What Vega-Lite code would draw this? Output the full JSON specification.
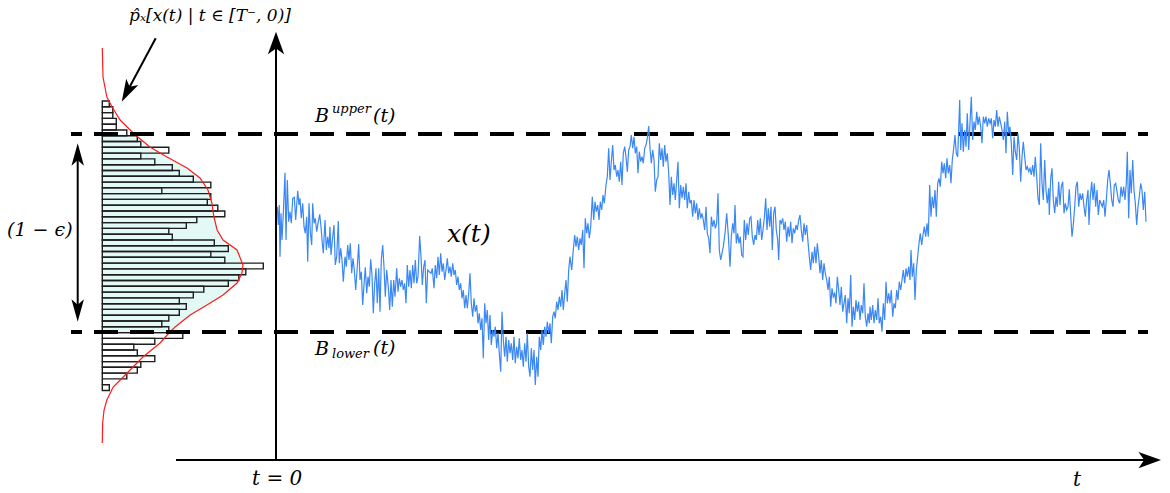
{
"$schema": "https://vega.github.io/schema/vega-lite/v6.json",
"width": 1170, "height": 493,
"autosize": {"type": "fit", "contains": "padding"},
"padding": 0,
"background": "white",
"config": {"view": {"stroke": null}, "text": {"font": "DejaVu Serif"}},
"datasets": {
"series": [
{"t":1.3,"v":26.3},{"t":2.3,"v":8},{"t":3.3,"v":28},{"t":4,"v":-23.7},{"t":5,"v":19.7},{"t":6,"v":-7},{"t":7.3,"v":19.7},{"t":9,"v":60.3},{"t":10,"v":-7},{"t":11.3,"v":53},{"t":12.7,"v":11.3},{"t":14,"v":21.3},{"t":15.3,"v":9.7},{"t":16.7,"v":34.7},{"t":18.3,"v":35.7},{"t":19.7,"v":13},{"t":21.7,"v":42.3},{"t":23,"v":28},{"t":24,"v":34.7},{"t":25.3,"v":14.7},{"t":26.7,"v":29.7},{"t":28,"v":6.3},{"t":29.3,"v":-0.3},{"t":30.7,"v":16.3},{"t":31.7,"v":-28.7},{"t":33,"v":29.7},{"t":34.3,"v":1.3},{"t":35.7,"v":-12},{"t":36.7,"v":29.7},{"t":38,"v":9.7},{"t":39.3,"v":14.7},{"t":40.7,"v":1.3},{"t":42,"v":9.7},{"t":43.7,"v":18.7},{"t":45,"v":6.3},{"t":46.3,"v":-10.3},{"t":47.3,"v":-20.3},{"t":49,"v":13},{"t":50.3,"v":-17},{"t":51.7,"v":-3.7},{"t":53,"v":-15.3},{"t":54,"v":6.3},{"t":55,"v":-22},{"t":56.7,"v":-3.7},{"t":58,"v":8},{"t":59.3,"v":-32},{"t":60.7,"v":-23.7},{"t":62.3,"v":12},{"t":63.3,"v":-30.3},{"t":64.7,"v":-15.3},{"t":66,"v":-27},{"t":67.3,"v":-48.7},{"t":69,"v":-23.7},{"t":70.3,"v":-33.7},{"t":71.7,"v":-12},{"t":73,"v":-27},{"t":74.3,"v":-10.3},{"t":75.7,"v":-40.3},{"t":77,"v":-25.3},{"t":78.3,"v":-37},{"t":79.7,"v":-57},{"t":81.3,"v":-33.7},{"t":82.7,"v":-11},{"t":84,"v":-47},{"t":85.3,"v":-38.7},{"t":86.7,"v":-72},{"t":88,"v":-52},{"t":89.3,"v":-34.3},{"t":90.7,"v":-60.3},{"t":92,"v":-43.7},{"t":93.3,"v":-53.7},{"t":94.7,"v":-26.3},{"t":96,"v":-42},{"t":97.3,"v":-80.3},{"t":98.7,"v":-50.3},{"t":100,"v":-35.3},{"t":101.3,"v":-70.3},{"t":102.7,"v":-35.3},{"t":104,"v":-78.7},{"t":105.3,"v":-27},{"t":106.7,"v":-12},{"t":108,"v":-33.7},{"t":109.3,"v":-63.7},{"t":110.7,"v":-37},{"t":112.3,"v":-53.7},{"t":113.7,"v":-77},{"t":115,"v":-47},{"t":116.3,"v":-73.7},{"t":117.7,"v":-47},{"t":119,"v":-63.7},{"t":120.7,"v":-35.3},{"t":122,"v":-58.7},{"t":123.3,"v":-45.3},{"t":124.7,"v":-53.7},{"t":126,"v":-47},{"t":127.3,"v":-57},{"t":128.7,"v":-50.3},{"t":130,"v":-70.3},{"t":131.3,"v":-32},{"t":132.7,"v":-53.7},{"t":134,"v":-37},{"t":135.3,"v":-55.3},{"t":136.7,"v":-32},{"t":138,"v":-50.3},{"t":139.3,"v":-27},{"t":140.7,"v":-50.3},{"t":142,"v":-43.7},{"t":143.7,"v":-3},{"t":145,"v":-23.7},{"t":146.3,"v":-52},{"t":147.7,"v":-33.7},{"t":149,"v":-27},{"t":150.3,"v":-70.3},{"t":151.7,"v":-37},
{"t":155,"v":-40.3},{"t":156.3,"v":-35.3},{"t":158,"v":-55.3},{"t":159.3,"v":-32},{"t":160.7,"v":-45.3},{"t":162,"v":-23.7},{"t":163.3,"v":-42},{"t":164.7,"v":-20.3},{"t":166,"v":-38.7},{"t":167.3,"v":-30.3},{"t":168.7,"v":-47},{"t":170,"v":-37},{"t":171.3,"v":-25.3},{"t":172.7,"v":-40.3},{"t":174,"v":-33.7},{"t":175.3,"v":-43.7},{"t":176.7,"v":-30.3},{"t":178,"v":-42},{"t":179.3,"v":-37},{"t":180.7,"v":-52},{"t":182,"v":-43.7},{"t":183.3,"v":-57},{"t":184.7,"v":-50.3},{"t":186,"v":-65.3},{"t":187.3,"v":-57},{"t":188.7,"v":-75.3},{"t":190,"v":-62},{"t":191.3,"v":-75.3},{"t":192.7,"v":-60.3},{"t":194,"v":-40.3},{"t":195.3,"v":-70.3},{"t":196.7,"v":-83.7},{"t":198,"v":-65.3},{"t":199.3,"v":-78.7},{"t":200.7,"v":-72},{"t":202,"v":-90.3},{"t":203.3,"v":-80.3},{"t":204.7,"v":-97},{"t":206,"v":-85.3},{"t":207.3,"v":-125.3},{"t":208.7,"v":-70.3},{"t":210,"v":-90.3},{"t":211.3,"v":-77},{"t":212.7,"v":-107},{"t":214,"v":-82},{"t":215.3,"v":-112},{"t":216.7,"v":-97},{"t":218,"v":-103.7},{"t":219.3,"v":-93.7},{"t":220.7,"v":-115.3},{"t":222,"v":-100.3},{"t":223.3,"v":-120.3},{"t":224.7,"v":-138.7},{"t":226,"v":-78.7},{"t":227.3,"v":-107},{"t":228.7,"v":-123.7},{"t":230,"v":-103.7},{"t":231.3,"v":-128.7},{"t":232.7,"v":-107},{"t":234,"v":-120.3},{"t":235.3,"v":-110.3},{"t":236.7,"v":-127},{"t":238,"v":-103.7},{"t":239.3,"v":-130.3},{"t":240.7,"v":-113.7},{"t":242,"v":-125.3},{"t":243.3,"v":-105.3},{"t":244.7,"v":-127},{"t":246,"v":-117},{"t":247.3,"v":-133.7},{"t":248.7,"v":-110.3},{"t":250,"v":-128.7},{"t":251.3,"v":-100.3},{"t":252.7,"v":-133.7},{"t":254,"v":-143.7},{"t":255.3,"v":-115.3},{"t":256.7,"v":-137},{"t":258,"v":-117},{"t":259.3,"v":-152},{"t":260.7,"v":-123.7},{"t":262,"v":-143.7},{"t":263.3,"v":-103.7},{"t":264.7,"v":-117},{"t":266,"v":-97},{"t":267.3,"v":-112},{"t":268.7,"v":-93.7},{"t":270,"v":-103.7},{"t":271.3,"v":-88.7},{"t":272.7,"v":-100.3},{"t":274,"v":-90.3},{"t":275.3,"v":-110.3},{"t":276.7,"v":-83.7},{"t":278,"v":-78.7},{"t":279.3,"v":-85.3},{"t":280.7,"v":-68.7},{"t":282,"v":-77},{"t":283.3,"v":-63.7},{"t":284.7,"v":-73.7},{"t":286,"v":-57},{"t":287.3,"v":-77},{"t":288.7,"v":-60.3},{"t":290,"v":-47},{"t":291.3,"v":-68.7},{"t":292.7,"v":-37},
{"t":294,"v":-23.7},{"t":295.7,"v":-37},{"t":297.3,"v":-17},{"t":298.7,"v":-2},{"t":300,"v":-13.7},{"t":301.3,"v":-3.7},{"t":302.7,"v":-17},{"t":304,"v":-5.3},{"t":305.3,"v":-12},{"t":306.7,"v":3},{"t":308,"v":-35.3},{"t":309.3,"v":14.7},{"t":310.7,"v":-0.3},{"t":312,"v":9.7},{"t":313.3,"v":-5.3},{"t":314.7,"v":6.3},{"t":316.3,"v":36.3},{"t":317.7,"v":13},{"t":319,"v":31.3},{"t":320.3,"v":21.3},{"t":321.7,"v":28},{"t":323,"v":13},{"t":324.3,"v":31.3},{"t":325.7,"v":23},{"t":327,"v":38},{"t":328.3,"v":29.7},{"t":330,"v":48},{"t":331.3,"v":56.3},{"t":332.7,"v":84.7},{"t":334,"v":53},{"t":335.3,"v":71.3},{"t":336.7,"v":88},{"t":338,"v":63},{"t":339.3,"v":68},{"t":340.7,"v":56.3},{"t":342,"v":63},{"t":343.3,"v":51.3},{"t":344.7,"v":71.3},{"t":346,"v":48},{"t":347.3,"v":79.7},{"t":348.7,"v":86.3},{"t":350,"v":76.3},{"t":351.3,"v":61.3},{"t":352.7,"v":83},{"t":354,"v":86.3},{"t":355.3,"v":98},{"t":356.7,"v":84.7},{"t":358,"v":96.3},{"t":359.3,"v":79.7},{"t":360.7,"v":86.3},{"t":362,"v":59.7},{"t":363.3,"v":81.3},{"t":364.7,"v":71.3},{"t":366,"v":76.3},{"t":367.3,"v":69.7},{"t":368.7,"v":84.7},{"t":370,"v":88},{"t":371.3,"v":94.7},{"t":372.7,"v":107},{"t":374,"v":84.7},{"t":375.3,"v":69.7},{"t":376.7,"v":83},{"t":378,"v":73},{"t":379.3,"v":41.3},{"t":380.7,"v":53},{"t":382,"v":56.3},{"t":383.3,"v":89.7},{"t":384.7,"v":73},{"t":386,"v":84.7},{"t":387.3,"v":66.3},{"t":388.7,"v":88},{"t":390,"v":71.3},{"t":391.3,"v":79.7},{"t":392.7,"v":59.7},{"t":394,"v":28},{"t":395.3,"v":56.3},{"t":396.7,"v":38},{"t":398,"v":49.7},{"t":399.3,"v":33},{"t":400.7,"v":53},{"t":402,"v":71.3},{"t":403.3,"v":24.7},{"t":404.7,"v":48},{"t":406,"v":34.7},{"t":407.3,"v":46.3},{"t":408.7,"v":33},{"t":410,"v":49.7},{"t":411.3,"v":24.7},{"t":412.7,"v":41.3},{"t":414,"v":29.7},{"t":415.3,"v":33},{"t":416.7,"v":16.3},{"t":418,"v":33},{"t":419.3,"v":19.7},{"t":420.7,"v":29.7},{"t":422,"v":13},{"t":423.3,"v":24.7},{"t":424.7,"v":14.7},{"t":426,"v":19.7},{"t":427.3,"v":13},{"t":428.7,"v":3},{"t":430,"v":26.3},{"t":431.3,"v":-0.3},{"t":432.7,"v":-5.3},{"t":434,"v":-20.3},{"t":435.3,"v":16.3},{"t":436.7,"v":6.3},{"t":438,"v":13},{"t":439.3,"v":4.7},{"t":440.7,"v":9.7},{"t":442,"v":39.7},{"t":443.3,"v":-17},{"t":444.7,"v":-27},
{"t":447.3,"v":-13.7},{"t":449,"v":-0.3},{"t":450.7,"v":19.7},{"t":452.3,"v":-2},{"t":454,"v":-33.7},{"t":455.3,"v":-3.7},{"t":456.7,"v":9.7},{"t":458,"v":-0.3},{"t":459,"v":28},{"t":460.3,"v":-10.3},{"t":461.7,"v":-0.3},{"t":463,"v":-10.3},{"t":464.3,"v":-3.7},{"t":465.7,"v":-22},{"t":467,"v":-23.7},{"t":468.3,"v":13},{"t":469.7,"v":-7},{"t":471,"v":9.7},{"t":472.3,"v":-2},{"t":473.7,"v":14.7},{"t":475,"v":16.3},{"t":476.3,"v":-3.7},{"t":477.7,"v":-12},{"t":479,"v":-2},{"t":480.3,"v":-7},{"t":481.7,"v":13},{"t":483,"v":-2},{"t":484.3,"v":14.7},{"t":485.7,"v":-7},{"t":487,"v":3},{"t":488.3,"v":14.7},{"t":489.7,"v":34.7},{"t":491,"v":3},{"t":492.3,"v":24.7},{"t":493.7,"v":6.3},{"t":495,"v":26.3},{"t":496.3,"v":-17},{"t":497.7,"v":19.7},{"t":499,"v":26.3},{"t":500.3,"v":3},{"t":501.7,"v":-7},{"t":502.7,"v":-27},{"t":504,"v":13},{"t":505.3,"v":9.7},{"t":506.7,"v":14.7},{"t":508,"v":3},{"t":509.3,"v":11.3},{"t":510.7,"v":-8.7},{"t":512,"v":6.3},{"t":513.3,"v":-3.7},{"t":514.7,"v":11.3},{"t":516,"v":-10.3},{"t":517.3,"v":4.7},{"t":518.7,"v":-0.3},{"t":520,"v":8},{"t":521.3,"v":3},{"t":522.7,"v":13},{"t":524,"v":18},{"t":525.3,"v":3},{"t":526.7,"v":-8.7},{"t":528,"v":9.7},{"t":529.3,"v":-2},{"t":530.7,"v":8},{"t":532,"v":-8.7},{"t":533.3,"v":-23.7},{"t":534.7,"v":-37},{"t":536,"v":-18.7},{"t":537.3,"v":-30.3},{"t":538.7,"v":-13.7},{"t":540,"v":-30.3},{"t":541.3,"v":-10.3},{"t":542.7,"v":-23.7},{"t":544,"v":-40.3},{"t":545.3,"v":-27},{"t":546.7,"v":-47},{"t":548,"v":-30.3},{"t":549.3,"v":-40.3},{"t":550.7,"v":-47},{"t":552,"v":-57},{"t":553.3,"v":-43.7},{"t":554.7,"v":-73.7},{"t":556,"v":-55.3},{"t":557.3,"v":-63.7},{"t":558.7,"v":-60.3},{"t":560,"v":-70.3},{"t":561.3,"v":-43.7},{"t":562.7,"v":-57},{"t":564,"v":-72},{"t":565.3,"v":-53.7},{"t":566.7,"v":-78.7},{"t":568,"v":-70.3},{"t":569.3,"v":-62},{"t":570.7,"v":-90.3},{"t":572,"v":-65.3},{"t":573.3,"v":-80.3},{"t":574.7,"v":-42},{"t":576,"v":-93.7},{"t":577.3,"v":-73.7},{"t":578.7,"v":-87},{"t":580,"v":-67},{"t":581.3,"v":-78.7},{"t":582.7,"v":-68.7},{"t":584,"v":-87},{"t":585.3,"v":-72},{"t":586.7,"v":-80.3},{"t":588,"v":-50.3},{"t":589.3,"v":-83.7},{"t":590.7,"v":-93.7},{"t":592,"v":-80.3},{"t":593.3,"v":-90.3},
{"t":594,"v":-73.7},{"t":595.3,"v":-87},{"t":596.7,"v":-72},{"t":598,"v":-90.3},{"t":599.3,"v":-77},{"t":600.7,"v":-87},{"t":602,"v":-65.3},{"t":603.3,"v":-90.3},{"t":604.7,"v":-83.7},{"t":606,"v":-98.7},{"t":607.3,"v":-70.3},{"t":608.7,"v":-87},{"t":610,"v":-48.7},{"t":611.3,"v":-70.3},{"t":612.7,"v":-60.3},{"t":614,"v":-70.3},{"t":615.3,"v":-57},{"t":616.7,"v":-83.7},{"t":618,"v":-70.3},{"t":619.3,"v":-75.3},{"t":620.7,"v":-57},{"t":622,"v":-67},{"t":623.3,"v":-48.7},{"t":624.7,"v":-57},{"t":626,"v":-47},{"t":627.3,"v":-37},{"t":628.7,"v":-50.3},{"t":630,"v":-35.3},{"t":631.3,"v":-43.7},{"t":632.7,"v":-33.7},{"t":634,"v":-47},{"t":635,"v":-17},{"t":636.3,"v":-43.7},{"t":637.7,"v":-30.3},{"t":639,"v":-67},{"t":640.3,"v":-37},{"t":641.7,"v":-23.7},{"t":643,"v":-10.3},{"t":644.3,"v":-0.3},{"t":645.7,"v":-12},{"t":647,"v":-2},{"t":648.3,"v":6.3},{"t":649.7,"v":-3.7},{"t":651,"v":9.7},{"t":652.3,"v":-3.7},{"t":653.7,"v":48},{"t":655,"v":16.3},{"t":656.3,"v":36.3},{"t":657.7,"v":24.7},{"t":659,"v":43},{"t":660.3,"v":16.3},{"t":661.7,"v":49.7},{"t":663,"v":54.7},{"t":664.3,"v":46.3},{"t":665.7,"v":71.3},{"t":667,"v":59.7},{"t":668.3,"v":69.7},{"t":669.7,"v":54.7},{"t":671,"v":74.7},{"t":672.3,"v":59.7},{"t":673.7,"v":68},{"t":675,"v":49.7},{"t":676.3,"v":73},{"t":677.7,"v":84.7},{"t":679,"v":98},{"t":680.3,"v":79.7},{"t":681.7,"v":76.3},{"t":683,"v":113},{"t":683.7,"v":133},{"t":684.7,"v":83},{"t":686,"v":109.7},{"t":687.3,"v":81.3},{"t":688.7,"v":103},{"t":690,"v":86.3},{"t":691.3,"v":119.7},{"t":692.7,"v":83},{"t":694,"v":109.7},{"t":695.3,"v":136.3},{"t":696.7,"v":93},{"t":698,"v":111.3},{"t":699.3,"v":103},{"t":700.7,"v":121.3},{"t":702,"v":108},{"t":703.3,"v":116.3},{"t":704.7,"v":106.3},{"t":706,"v":89.7},{"t":707.3,"v":116.3},{"t":708.7,"v":109.7},{"t":710,"v":116.3},{"t":711.3,"v":106.3},{"t":712.7,"v":114.7},{"t":714,"v":109.7},{"t":715.3,"v":114.7},{"t":716.7,"v":94.7},{"t":718,"v":113},{"t":719.3,"v":106.3},{"t":720.7,"v":123},{"t":722,"v":106.3},{"t":723.3,"v":116.3},{"t":724.7,"v":109.7},{"t":726,"v":103},{"t":727.3,"v":93},{"t":728.7,"v":111.3},{"t":730,"v":79.7},{"t":731.3,"v":121.3},{"t":732.7,"v":99.7},{"t":734,"v":106.3},{"t":735.3,"v":89.7},{"t":736.7,"v":58},{"t":738,"v":96.3},{"t":739.3,"v":81.3},{"t":740.7,"v":73},{"t":742,"v":99.7},{"t":743.3,"v":84.7},{"t":744.7,"v":51.3},{"t":746,"v":76.3},{"t":747.3,"v":91.3},{"t":748.7,"v":76.3},{"t":750,"v":63},{"t":751.3,"v":66.3},{"t":752.7,"v":61.3},
{"t":754,"v":64.7},{"t":755.3,"v":58},{"t":756.7,"v":68},{"t":758,"v":56.3},{"t":759.3,"v":76.3},{"t":760.7,"v":56.3},{"t":762,"v":34.7},{"t":763.3,"v":28},{"t":764.7,"v":89.7},{"t":766,"v":49.7},{"t":767.3,"v":33},{"t":768.7,"v":73},{"t":770,"v":43},{"t":771.3,"v":29.7},{"t":772.7,"v":44.7},{"t":773.3,"v":18},{"t":774.7,"v":54.7},{"t":776,"v":64.7},{"t":777.3,"v":33},{"t":778.7,"v":19.7},{"t":780,"v":36.3},{"t":781.3,"v":26.3},{"t":782.7,"v":51.3},{"t":784,"v":28},{"t":785.3,"v":46.3},{"t":786.7,"v":51.3},{"t":788,"v":19.7},{"t":789.3,"v":29.7},{"t":790.7,"v":23},{"t":792,"v":26.3},{"t":793.3,"v":43.7},{"t":794.7,"v":18},{"t":796,"v":-3.7},{"t":797.3,"v":8},{"t":798.7,"v":26.3},{"t":800,"v":46.3},{"t":801.3,"v":51.3},{"t":802.7,"v":26.3},{"t":804,"v":39.7},{"t":805.3,"v":33},{"t":806.7,"v":39.7},{"t":808,"v":26.3},{"t":809.3,"v":16.3},{"t":810.7,"v":33},{"t":812,"v":43},{"t":813,"v":8},{"t":814.3,"v":36.3},{"t":815.7,"v":51.3},{"t":817,"v":33},{"t":818.3,"v":49.7},{"t":819.7,"v":26.3},{"t":821,"v":43},{"t":822.3,"v":18},{"t":823.7,"v":33},{"t":825,"v":29.7},{"t":826.3,"v":26.3},{"t":827.7,"v":33},{"t":829,"v":16.3},{"t":830.3,"v":33},{"t":831.7,"v":53},{"t":833,"v":63},{"t":834.3,"v":49.7},{"t":835.7,"v":33},{"t":837,"v":26.3},{"t":838.3,"v":48},{"t":839.7,"v":49.7},{"t":841,"v":41.3},{"t":842.3,"v":33},{"t":843.7,"v":29.7},{"t":845,"v":46.3},{"t":846.3,"v":36.3},{"t":847.7,"v":46.3},{"t":849,"v":33},{"t":850.3,"v":49.7},{"t":851.3,"v":81.3},{"t":852.7,"v":14.7},{"t":854,"v":63},{"t":855.3,"v":39.7},{"t":856.7,"v":73},{"t":858,"v":43},{"t":859.3,"v":29.7},{"t":860.7,"v":8},{"t":862,"v":26.3},{"t":863.3,"v":36.3},{"t":864.7,"v":49.7},{"t":866,"v":43},{"t":867.3,"v":23},{"t":868.7,"v":41.3},{"t":870,"v":11.3}
],
"hist": [
{"hi":132.0,"lo":126.2,"n":2},{"hi":126.2,"lo":120.4,"n":3},{"hi":120.4,"lo":114.6,"n":3},{"hi":114.6,"lo":108.8,"n":4},{"hi":108.8,"lo":103.0,"n":4},{"hi":103.0,"lo":97.3,"n":7},{"hi":97.3,"lo":91.5,"n":10},{"hi":91.5,"lo":85.7,"n":11},{"hi":85.7,"lo":79.9,"n":19},{"hi":79.9,"lo":74.1,"n":11},{"hi":74.1,"lo":68.3,"n":15},{"hi":68.3,"lo":62.5,"n":20},{"hi":62.5,"lo":56.7,"n":22},{"hi":56.7,"lo":50.9,"n":26},{"hi":50.9,"lo":45.2,"n":31},{"hi":45.2,"lo":39.4,"n":17},{"hi":39.4,"lo":33.6,"n":31},{"hi":33.6,"lo":27.8,"n":30},{"hi":27.8,"lo":22.0,"n":33},{"hi":22.0,"lo":16.2,"n":35},{"hi":16.2,"lo":10.4,"n":27},{"hi":10.4,"lo":4.6,"n":24},{"hi":4.6,"lo":-1.2,"n":19},{"hi":-1.2,"lo":-7.0,"n":20},{"hi":-7.0,"lo":-12.8,"n":32},{"hi":-12.8,"lo":-18.5,"n":36},{"hi":-18.5,"lo":-24.3,"n":31},{"hi":-24.3,"lo":-30.1,"n":35},{"hi":-30.1,"lo":-35.9,"n":46},{"hi":-35.9,"lo":-41.7,"n":41},{"hi":-41.7,"lo":-47.5,"n":39},{"hi":-47.5,"lo":-53.3,"n":36},{"hi":-53.3,"lo":-59.1,"n":29},{"hi":-59.1,"lo":-64.9,"n":26},{"hi":-64.9,"lo":-70.7,"n":22},{"hi":-70.7,"lo":-76.4,"n":24},{"hi":-76.4,"lo":-82.2,"n":22},{"hi":-82.2,"lo":-88.0,"n":19},{"hi":-88.0,"lo":-93.8,"n":17},{"hi":-93.8,"lo":-99.6,"n":19},{"hi":-99.6,"lo":-105.4,"n":23},{"hi":-105.4,"lo":-111.2,"n":15},{"hi":-111.2,"lo":-117.0,"n":9},{"hi":-117.0,"lo":-122.8,"n":10},{"hi":-122.8,"lo":-128.6,"n":15},{"hi":-128.6,"lo":-134.3,"n":11},{"hi":-134.3,"lo":-140.1,"n":10},{"hi":-140.1,"lo":-145.9,"n":7},{"hi":-145.9,"lo":-151.7,"n":0},{"hi":-151.7,"lo":-157.5,"n":2}
],
"density": [
{"v":185,"c":0},{"v":156,"c":0.2},{"v":136,"c":1.3},{"v":126,"c":2.8},{"v":113,"c":5.1},{"v":99,"c":9.1},{"v":86,"c":13.6},{"v":76,"c":18.5},{"v":65,"c":24.2},{"v":55,"c":27.9},{"v":43,"c":30.2},{"v":30,"c":31.3},{"v":16,"c":31.9},{"v":3,"c":32.8},{"v":-7,"c":34.5},{"v":-17,"c":38.5},{"v":-32,"c":40.2},{"v":-40,"c":39.9},{"v":-50,"c":38.5},{"v":-62,"c":34.5},{"v":-72,"c":29.9},{"v":-82,"c":25.1},{"v":-94,"c":20.8},{"v":-99,"c":19.3},{"v":-110,"c":16.5},{"v":-124,"c":11.6},{"v":-140,"c":7.1},{"v":-154,"c":3.1},{"v":-167,"c":1.3},{"v":-177,"c":0.5},{"v":-190,"c":0.1},{"v":-210,"c":0}
]
},
"layer": [
{
"data": {"name": "density"},
"transform": [{"filter": "datum.v >= -99 && datum.v <= 99"}],
"mark": {"type": "area", "orient": "horizontal", "color": "#e3f9f6"},
"encoding": {
"x": {"field": "c", "type": "quantitative", "scale": {"domain": [-29.229, 305.057], "nice": false, "zero": false}, "axis": null},
"y": {"field": "v", "type": "quantitative", "scale": {"domain": [-260, 233], "nice": false, "zero": false}, "axis": null}
}
},
{
"data": {"name": "hist"},
"mark": {"type": "rect", "filled": false, "stroke": "#1e1e1e", "strokeWidth": 1.4},
"encoding": {
"x": {"field": "n", "type": "quantitative", "scale": {"domain": [-29.229, 305.057], "nice": false, "zero": false}, "axis": null},
"y": {"field": "hi", "type": "quantitative", "scale": {"domain": [-260, 233], "nice": false, "zero": false}, "axis": null},
"y2": {"field": "lo"}
}
},
{
"data": {"name": "density"},
"mark": {"type": "line", "color": "#ff1a1a", "strokeWidth": 1.2},
"encoding": {
"x": {"field": "c", "type": "quantitative", "scale": {"domain": [-29.229, 305.057], "nice": false, "zero": false}, "axis": null},
"y": {"field": "v", "type": "quantitative", "scale": {"domain": [-260, 233], "nice": false, "zero": false}, "axis": null},
"order": {"field": "v", "type": "quantitative", "sort": "descending"}
}
},
{
"data": {"values": [{"bound": "upper", "v": 99}, {"bound": "lower", "v": -99}]},
"mark": {"type": "rule", "color": "black", "strokeWidth": 4, "strokeDash": [24, 12], "strokeDashOffset": 13},
"encoding": {
"x": {"datum": -205, "type": "quantitative", "scale": {"domain": [-276, 894], "nice": false, "zero": false}, "axis": null},
"x2": {"datum": 872},
"y": {"field": "v", "type": "quantitative", "scale": {"domain": [-260, 233], "nice": false, "zero": false}, "axis": null}
}
},
{
"data": {"name": "series"},
"mark": {"type": "line", "color": "#3a87f5", "strokeWidth": 1.2},
"encoding": {
"x": {"field": "t", "type": "quantitative", "scale": {"domain": [-276, 894], "nice": false, "zero": false}, "axis": null},
"y": {"field": "v", "type": "quantitative", "scale": {"domain": [-260, 233], "nice": false, "zero": false}, "axis": null}
}
},
{
"data": {"values": [{}]},
"mark": {"type": "rule", "color": "black", "strokeWidth": 2},
"encoding": {
"x": {"datum": 0, "type": "quantitative", "scale": {"domain": [-276, 894], "nice": false, "zero": false}, "axis": null},
"y": {"datum": -227, "type": "quantitative", "scale": {"domain": [-260, 233], "nice": false, "zero": false}, "axis": null},
"y2": {"datum": 190}
}
},
{
"data": {"values": [{}]},
"mark": {"type": "rule", "color": "black", "strokeWidth": 2},
"encoding": {
"x": {"datum": -100, "type": "quantitative", "scale": {"domain": [-276, 894], "nice": false, "zero": false}, "axis": null},
"x2": {"datum": 872},
"y": {"datum": -227, "type": "quantitative", "scale": {"domain": [-260, 233], "nice": false, "zero": false}, "axis": null}
}
},
{
"data": {"values": [{}]},
"mark": {"type": "rule", "color": "black", "strokeWidth": 2},
"encoding": {
"x": {"datum": -198.3, "type": "quantitative", "scale": {"domain": [-276, 894], "nice": false, "zero": false}, "axis": null},
"y": {"datum": 80, "type": "quantitative", "scale": {"domain": [-260, 233], "nice": false, "zero": false}, "axis": null},
"y2": {"datum": -80}
}
},
{
"data": {"values": [{}]},
"mark": {"type": "rule", "color": "black", "strokeWidth": 2},
"encoding": {
"x": {"datum": -120.3, "type": "quantitative", "scale": {"domain": [-276, 894], "nice": false, "zero": false}, "axis": null},
"x2": {"datum": -148.4},
"y": {"datum": 194.7, "type": "quantitative", "scale": {"domain": [-260, 233], "nice": false, "zero": false}, "axis": null},
"y2": {"datum": 142.3}
}
},
{
"data": {"values": [{}]},
"mark": {"type": "point", "filled": true, "color": "black", "opacity": 1, "strokeWidth": 0, "size": 625, "shape": "M0,-1L0.65,0.8L0,0.35L-0.65,0.8Z"},
"encoding": {
"x": {"datum": 0, "type": "quantitative", "scale": {"domain": [-276, 894], "nice": false, "zero": false}, "axis": null},
"y": {"datum": 188.8, "type": "quantitative", "scale": {"domain": [-260, 233], "nice": false, "zero": false}, "axis": null}
}
},
{
"data": {"values": [{}]},
"mark": {"type": "point", "filled": true, "color": "black", "opacity": 1, "strokeWidth": 0, "size": 625, "angle": 90, "shape": "M0,-1L0.65,0.8L0,0.35L-0.65,0.8Z"},
"encoding": {
"x": {"datum": 872.5, "type": "quantitative", "scale": {"domain": [-276, 894], "nice": false, "zero": false}, "axis": null},
"y": {"datum": -227, "type": "quantitative", "scale": {"domain": [-260, 233], "nice": false, "zero": false}, "axis": null}
}
},
{
"data": {"values": [{}]},
"mark": {"type": "point", "filled": true, "color": "black", "opacity": 1, "strokeWidth": 0, "size": 625, "shape": "M0,-1L0.5,0.8L0,0.35L-0.5,0.8Z"},
"encoding": {
"x": {"datum": -198.3, "type": "quantitative", "scale": {"domain": [-276, 894], "nice": false, "zero": false}, "axis": null},
"y": {"datum": 77.2, "type": "quantitative", "scale": {"domain": [-260, 233], "nice": false, "zero": false}, "axis": null}
}
},
{
"data": {"values": [{}]},
"mark": {"type": "point", "filled": true, "color": "black", "opacity": 1, "strokeWidth": 0, "size": 625, "angle": 180, "shape": "M0,-1L0.5,0.8L0,0.35L-0.5,0.8Z"},
"encoding": {
"x": {"datum": -198.3, "type": "quantitative", "scale": {"domain": [-276, 894], "nice": false, "zero": false}, "axis": null},
"y": {"datum": -76.2, "type": "quantitative", "scale": {"domain": [-260, 233], "nice": false, "zero": false}, "axis": null}
}
},
{
"data": {"values": [{}]},
"mark": {"type": "point", "filled": true, "color": "black", "opacity": 1, "strokeWidth": 0, "size": 625, "angle": 208, "shape": "M0,-1L0.55,0.8L0,0.35L-0.55,0.8Z"},
"encoding": {
"x": {"datum": -148.4, "type": "quantitative", "scale": {"domain": [-276, 894], "nice": false, "zero": false}, "axis": null},
"y": {"datum": 142.3, "type": "quantitative", "scale": {"domain": [-260, 233], "nice": false, "zero": false}, "axis": null}
}
},
{
"data": {"values": [{"label": "p\u0302\u2093[x(t) | t \u2208 [T\u207b, 0)]", "t": -66, "v": 212}]},
"mark": {"type": "text", "fontStyle": "italic", "fontSize": 17, "align": "center", "baseline": "alphabetic", "color": "black"},
"encoding": {
"x": {"field": "t", "type": "quantitative", "scale": {"domain": [-276, 894], "nice": false, "zero": false}, "axis": null},
"y": {"field": "v", "type": "quantitative", "scale": {"domain": [-260, 233], "nice": false, "zero": false}, "axis": null},
"text": {"field": "label", "type": "nominal"}
}
},
{
"data": {"values": [
{"label": "B", "t": 39, "v": 111},
{"label": "(t)", "t": 97, "v": 111},
{"label": "B", "t": 39, "v": -122},
{"label": "(t)", "t": 97, "v": -121},
{"label": "(1 \u2212 \u03f5)", "t": -269, "v": -3}
]},
"mark": {"type": "text", "fontStyle": "italic", "fontSize": 19, "align": "left", "baseline": "alphabetic", "color": "black"},
"encoding": {
"x": {"field": "t", "type": "quantitative", "scale": {"domain": [-276, 894], "nice": false, "zero": false}, "axis": null},
"y": {"field": "v", "type": "quantitative", "scale": {"domain": [-260, 233], "nice": false, "zero": false}, "axis": null},
"text": {"field": "label", "type": "nominal"}
}
},
{
"data": {"values": [
{"label": "upper", "t": 56, "v": 120},
{"label": "lower", "t": 56, "v": -125}
]},
"mark": {"type": "text", "fontStyle": "italic", "fontSize": 13, "align": "left", "baseline": "alphabetic", "color": "black"},
"encoding": {
"x": {"field": "t", "type": "quantitative", "scale": {"domain": [-276, 894], "nice": false, "zero": false}, "axis": null},
"y": {"field": "v", "type": "quantitative", "scale": {"domain": [-260, 233], "nice": false, "zero": false}, "axis": null},
"text": {"field": "label", "type": "nominal"}
}
},
{
"data": {"values": [{"label": "x(t)", "t": 171, "v": -9}]},
"mark": {"type": "text", "fontStyle": "italic", "fontSize": 25, "align": "left", "baseline": "alphabetic", "color": "black"},
"encoding": {
"x": {"field": "t", "type": "quantitative", "scale": {"domain": [-276, 894], "nice": false, "zero": false}, "axis": null},
"y": {"field": "v", "type": "quantitative", "scale": {"domain": [-260, 233], "nice": false, "zero": false}, "axis": null},
"text": {"field": "label", "type": "nominal"}
}
},
{
"data": {"values": [
{"label": "t = 0", "t": -24, "v": -252},
{"label": "t", "t": 797, "v": -253}
]},
"mark": {"type": "text", "fontStyle": "italic", "fontSize": 20, "align": "left", "baseline": "alphabetic", "color": "black"},
"encoding": {
"x": {"field": "t", "type": "quantitative", "scale": {"domain": [-276, 894], "nice": false, "zero": false}, "axis": null},
"y": {"field": "v", "type": "quantitative", "scale": {"domain": [-260, 233], "nice": false, "zero": false}, "axis": null},
"text": {"field": "label", "type": "nominal"}
}
}
],
"resolve": {"scale": {"x": "independent"}}
}
